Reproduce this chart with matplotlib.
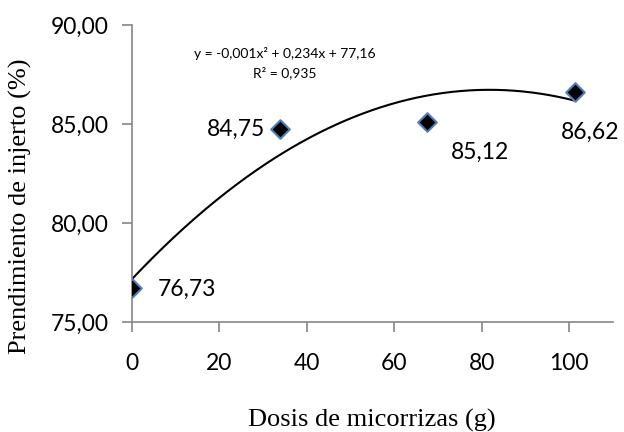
import numpy as np
import matplotlib
matplotlib.use("Agg")
import matplotlib.pyplot as plt
from matplotlib.ticker import FuncFormatter

# Data
dosis = [0, 33.75, 67.5, 101.25]
prendimiento = [76.73, 84.75, 85.12, 86.62]
labels = ["76,73", "84,75", "85,12", "86,62"]
x_ticks = [0, 20, 40, 60, 80, 100]
y_ticks = [75, 80, 85, 90]
equation = "y = -0,001x² + 0,234x + 77,16"
r2_text = "R² = 0,935"

sans = ["Lato", "DejaVu Sans"]
serif = ["Liberation Serif", "DejaVu Serif"]

fig = plt.figure(figsize=(6.24, 4.32), dpi=100)
ax = fig.add_axes([132/624, 1-322/432, (613-132)/624, (322-25)/432])

# Trendline (quadratic fit of the data, as in the spreadsheet)
coef = np.polyfit(dosis, prendimiento, 2)
xs = np.linspace(min(dosis), max(dosis), 300)
ax.plot(xs, np.polyval(coef, xs), color="black", lw=1.5, zorder=2)

ax.scatter(dosis, prendimiento, marker="D", s=90, facecolor="black",
           edgecolor="#4F81BD", linewidth=1.5, zorder=3)

offsets = [(26, -2), (-14, 0), (53, -31), (15, -40)]
has = ["left", "right", "center", "center"]
for x, y, lab, off, ha in zip(dosis, prendimiento, labels, offsets, has):
    ax.annotate(lab, (x, y), xytext=off, textcoords="offset pixels",
                ha=ha, va="center", fontsize=16.5, family=sans)

ax.text(285/624, 1-53/432, equation, transform=fig.transFigure, ha="center",
        va="center", fontsize=10, family=sans)
ax.text(285/624, 1-73/432, r2_text, transform=fig.transFigure, ha="center",
        va="center", fontsize=10, family=sans)

ax.set_xlim(0, 110)
ax.set_ylim(75, 90)
ax.set_xticks(x_ticks)
ax.set_yticks(y_ticks)
ax.yaxis.set_major_formatter(FuncFormatter(lambda v, p: f"{v:.2f}".replace(".", ",")))
for lbl in ax.get_xticklabels() + ax.get_yticklabels():
    lbl.set_family(sans)
    lbl.set_fontsize(16.5)

for s in ["top", "right"]:
    ax.spines[s].set_visible(False)
for s in ["left", "bottom"]:
    ax.spines[s].set_color("#868686")
    ax.spines[s].set_linewidth(1.2)
ax.tick_params(axis="both", colors="#868686", labelcolor="black", length=7, width=1.2)
ax.tick_params(axis="x", pad=15)
ax.tick_params(axis="y", pad=10)

fig.text(372/624, 1-420/432, "Dosis de micorrizas (g)", ha="center", va="center",
         fontsize=19, family=serif)
fig.text(20/624, 1-206/432, "Prendimiento de injerto (%)", ha="center", va="center",
         rotation=90, fontsize=19, family=serif)

fig.savefig("out.png", dpi=100)
